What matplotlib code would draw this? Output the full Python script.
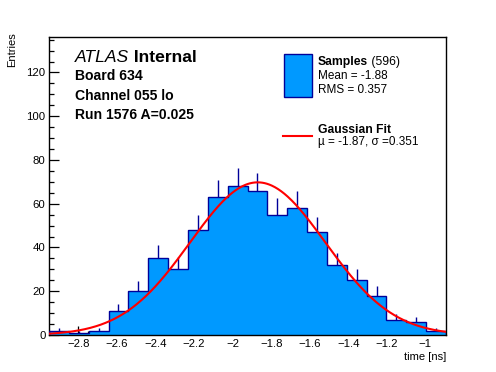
import numpy as np
import matplotlib
matplotlib.use("Agg")
import matplotlib.pyplot as plt
from matplotlib.ticker import MultipleLocator

# ---- data ----
x_min, x_max = -2.953, -0.893
counts = [2, 1, 2, 11, 20, 35, 30, 48, 63, 68, 66, 55, 58, 47, 32, 25, 18, 7, 6, 2]
fit_mu = -1.87
fit_sigma = 0.351
n_entries = 596
mean_val = -1.88
rms_val = 0.357
label_lines = ["Board 634", "Channel 055 lo", "Run 1576 A=0.025"]
x_ticks = [-2.8, -2.6, -2.4, -2.2, -2.0, -1.8, -1.6, -1.4, -1.2, -1.0]
y_ticks = [0, 20, 40, 60, 80, 100, 120]

W, H = 496, 372
plt.rcParams['font.family'] = ['Liberation Sans', 'DejaVu Sans']
fig = plt.figure(figsize=(W / 100, H / 100), dpi=100)
ax = fig.add_axes([49 / W, 1 - 335 / H, (446 - 49) / W, (335 - 37) / H])

FILL = '#0099ff'
EDGE = '#000099'

counts = np.array(counts, dtype=float)
edges = np.linspace(x_min, x_max, len(counts) + 1)
centers = 0.5 * (edges[:-1] + edges[1:])
bw = edges[1] - edges[0]
errs = np.sqrt(counts)

# error bars (lower half hidden behind fill)
ax.vlines(centers, counts - errs, counts + errs, color=EDGE, lw=1.0, zorder=1)
ax.stairs(counts, edges, fill=True, color=FILL, zorder=2)
ax.stairs(counts, edges, fill=False, color=EDGE, lw=1.0, zorder=3)

# Gaussian fit curve
xs = np.linspace(x_min, x_max, 500)
amp = n_entries * bw / (np.sqrt(2 * np.pi) * fit_sigma)
ax.plot(xs, amp * np.exp(-0.5 * ((xs - fit_mu) / fit_sigma) ** 2), color='red', lw=1.5, zorder=4)

ax.set_xlim(x_min, x_max)
ax.set_ylim(0, 136.2)
ax.set_xticks(x_ticks)
ax.set_xticklabels([f"{v:g}".replace('-', '\u2212') for v in x_ticks])
ax.set_yticks(y_ticks)
ax.xaxis.set_minor_locator(MultipleLocator(0.05))
ax.yaxis.set_minor_locator(MultipleLocator(5))
ax.tick_params(which='both', direction='in', top=False, right=False, labelsize=8.2, width=0.9)
ax.tick_params(axis='x', which='major', length=6.5, pad=3)
ax.tick_params(axis='x', which='minor', length=3.2)
ax.tick_params(axis='y', which='major', length=7, pad=2.5)
ax.tick_params(axis='y', which='minor', length=3.8)
for s in ax.spines.values():
    s.set_linewidth(1.0)

def P(x, y):
    return (x / W, 1 - y / H)

fig.text(*P(446, 360), 'time [ns]', ha='right', va='baseline', fontsize=8)
fig.text(*P(12, 32), 'Entries', ha='center', va='top', rotation=90, fontsize=8)

fig.canvas.draw()
r = fig.canvas.get_renderer()

def two_part(x, y, a, b, sa, sb, size):
    t1 = fig.text(*P(x, y), a, ha='left', va='baseline', fontsize=size, **sa)
    bb = t1.get_window_extent(renderer=r)
    fig.text(bb.x1 / W, 1 - y / H, b, ha='left', va='baseline', fontsize=size, **sb)

two_part(75, 62, 'ATLAS', ' Internal', dict(style='italic'), dict(weight='bold'), 12.6)
for i, t in enumerate(label_lines):
    fig.text(*P(75, [80, 100, 119][i]), t, ha='left', va='baseline', fontsize=10.1, weight='bold')

# legend
ax_leg = fig.add_axes([0, 0, 1, 1], facecolor='none')
ax_leg.set_axis_off()
ax_leg.set_xlim(0, W)
ax_leg.set_ylim(H, 0)
ax_leg.add_patch(plt.Rectangle((283.5, 53.5), 28, 43, facecolor=FILL, edgecolor=EDGE, lw=1.0))
ax_leg.plot([283, 312], [136, 136], color='red', lw=1.5)
two_part(318, 65, 'Samples', f' ({n_entries})', dict(weight='bold'), dict(), 8.7)
fig.text(*P(318, 79.3), f'Mean = {mean_val:.2f}', ha='left', va='baseline', fontsize=8.5)
fig.text(*P(318, 93.3), f'RMS = {rms_val:.3f}', ha='left', va='baseline', fontsize=8.5)
fig.text(*P(318, 132.7), 'Gaussian Fit', ha='left', va='baseline', fontsize=8.7, weight='bold')
fig.text(*P(318, 145), f'\u00b5 = {fit_mu:.2f}, \u03c3 ={fit_sigma:.3f}', ha='left', va='baseline', fontsize=8.5)

fig.savefig('out.png', dpi=100)
